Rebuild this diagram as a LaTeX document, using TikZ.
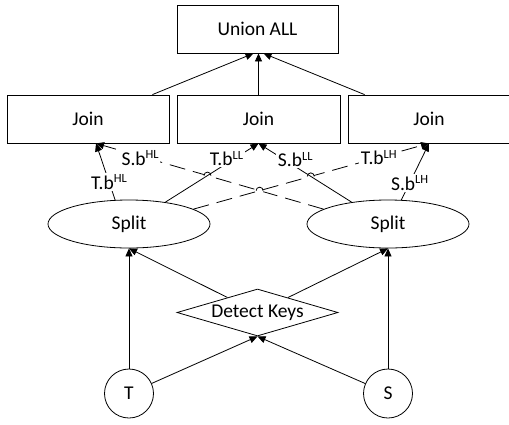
\documentclass[tikz,border=0pt]{standalone}
\usepackage{fontspec}
\setmainfont{Carlito}
\usetikzlibrary{shapes.geometric,arrows.meta,calc,intersections}

\tikzset{
  box/.style={draw, rectangle, minimum width=162pt, minimum height=48pt, inner sep=0pt},
  oval/.style={draw, ellipse, minimum width=162pt, minimum height=48pt, inner sep=0pt},
  src/.style={draw, circle, minimum size=49pt, inner sep=0pt},
  decide/.style={draw, diamond, shape aspect=3.43, minimum width=161pt, minimum height=47pt, inner sep=0pt},
  link/.style={-{Triangle[length=8pt,width=7pt]}},
  part/.style={fill=white, inner sep=1.5pt},
  crossed/.style={dash pattern=on 16pt off 8pt},
}
% raised superscript for the bucket labels
\newcommand\bsup[1]{\raisebox{6.5pt}{\fontsize{12.5pt}{13pt}\selectfont #1}}
% line jump: gap in the hopping line, redraw the crossed line, then the arc
\newcommand\hop[2]{%
  \begin{scope}
    \clip (#1) circle (4);
    \fill[white] (#1) circle (4);
    #2
  \end{scope}
  \draw (#1) ++(-3.5,0) arc[start angle=180, end angle=360, radius=3.5];}

\begin{document}
\begin{tikzpicture}[x=1pt, y=-1pt, line width=0.8pt, font=\fontsize{19.5pt}{23pt}\selectfont]
\useasboundingbox[fill=white] (0,0) rectangle (509,424);

% operators
\node[box, minimum width=161pt] (union) at (257.5,29) {Union ALL};
\node[box] (lj) at (88,119) {Join};
\node[box, minimum width=163pt] (mj) at (258.5,119) {Join};
\node[box] (rj) at (429,119) {Join};
\node[oval] (ls) at (129,224) {Split};
\node[oval] (rs) at (388,224) {Split};
\node[decide] (dk) at (257.5,312.5) {Detect Keys};
\node[src] (t) at (129,393.5) {T};
\node[src] (s) at (388,393.5) {S};

% inputs
\draw[link] (t) -- (ls);
\draw[link] (s) -- (rs);
\draw[link] (t) -- (dk.south);
\draw[link] (s) -- (dk.south);
\draw[link] (dk) -- (ls.south);
\draw[link] (dk) -- (rs.south);

% buckets into the joins
\draw[link] (ls.120) -- ($(lj.south)+(8,0)$)
  node[part, pos=0.32] {T.b\bsup{HL}};
\draw[link, crossed, name path=shl] (rs.167) -- ($(lj.south)+(8,0)$)
  node[part, pos=0.806, yshift=-2pt] {S.b\bsup{HL}};
\draw[link, name path=tll] (ls.31) -- (mj.south)
  node[part, pos=0.656, yshift=5pt] {T.b\bsup{LL}};
\draw[link, name path=sll] (rs.149) -- (mj.south)
  node[part, pos=0.606, yshift=7pt] {S.b\bsup{LL}};
\draw[link, crossed, name path=tlh] (ls.13) -- (rj.south)
  node[part, pos=0.787] {T.b\bsup{LH}};
\draw[link] (rs.61) -- (rj.south)
  node[part, pos=0.30] {S.b\bsup{LH}};

% joins into the union
\draw[link] ($(lj.north east)+(-17,0)$) -- ($(union.south)+(-4,0)$);
\draw[link] (mj.north) -- (mj.north |- union.south);
\draw[link] ($(rj.north west)+(17,0)$) -- ($(union.south)+(6,0)$);

% line jumps where the bucket lines cross
\path[name intersections={of=tll and shl, by=j1}];
\path[name intersections={of=shl and tlh, by=j2}];
\path[name intersections={of=sll and tlh, by=j3}];
\hop{j1}{\draw (ls.31) -- (mj.south);}
\hop{j2}{\draw[crossed] (ls.13) -- (rj.south);}
\hop{j3}{\draw (rs.149) -- (mj.south);}
\end{tikzpicture}
\end{document}
